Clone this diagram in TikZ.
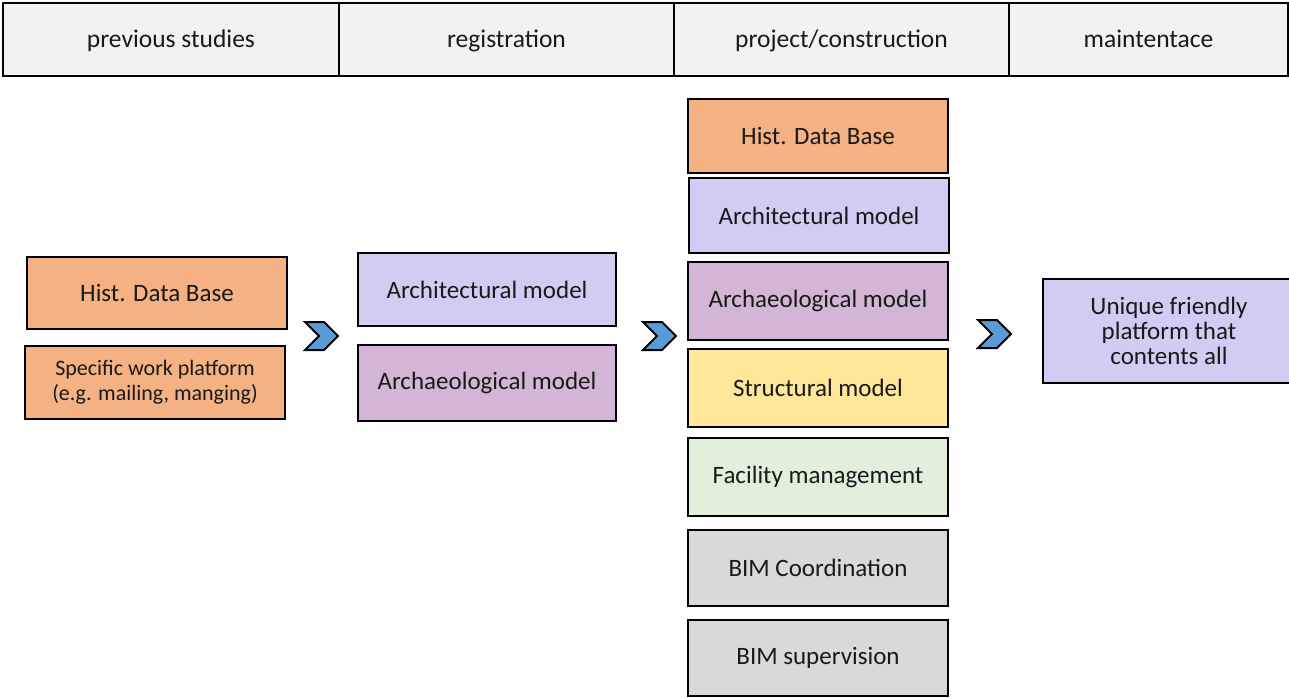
\documentclass[tikz,border=0pt]{standalone}
\usepackage{fontspec}
\setmainfont{Carlito}
\definecolor{cOrange}{HTML}{F4B183}
\definecolor{cLav}{HTML}{D0CCF2}
\definecolor{cMauve}{HTML}{D3B5D6}
\definecolor{cYellow}{HTML}{FFE699}
\definecolor{cGreen}{HTML}{E2EFDA}
\definecolor{cGrey}{HTML}{D9D9D9}
\definecolor{cHead}{HTML}{F2F2F2}
\definecolor{cChev}{HTML}{5B9BD5}
\begin{document}
\begin{tikzpicture}[x=1pt,y=-1pt,
  box/.style={draw=black, line width=1.6pt, inner sep=2pt, outer sep=0pt, align=center,
    font=\fontsize{25}{30}\selectfont, text=black!90},
  head/.style={box, fill=cHead, minimum height=73pt, font=\fontsize{25.5}{30}\selectfont,
    text height=19pt, text depth=3pt},
  chevstyle/.style={draw=black, line width=2pt, fill=cChev, line join=miter},
  chev/.pic={\draw[chevstyle] (0,0) -- (19,0) -- (33,14) -- (19,28) -- (0,28) -- (14,14) -- cycle;}
]
\useasboundingbox (0,0) rectangle (1289,697);
% header
\node[head, minimum width=336pt] (h1) at (171,39.5) {previous studies};
\node[head, minimum width=335pt] (h2) at (506.5,39.5) {registration};
\node[head, minimum width=335pt] (h3) at (841.5,39.5) {project/construction};
\node[head, minimum width=279pt] (h4) at (1148.5,39.5) {maintentace};
% previous studies
\node[box, fill=cOrange, minimum width=260pt, minimum height=72pt] (ps1) at (157,293) {Hist. Data Base};
\node[box, fill=cOrange, minimum width=260pt, minimum height=73pt, font=\fontsize{22}{25}\selectfont] (ps2) at (155,382.5) {Specific work platform\\(e.g. mailing, manging)};
% registration
\node[box, fill=cLav, minimum width=258pt, minimum height=73pt] (r1) at (487,289.5) {Architectural model};
\node[box, fill=cMauve, minimum width=258pt, minimum height=76pt] (r2) at (487,383) {Archaeological model};
% project/construction
\node[box, fill=cOrange, minimum width=260pt, minimum height=74pt] (p1) at (818,136) {Hist. Data Base};
\node[box, fill=cLav, minimum width=260pt, minimum height=75pt] (p2) at (819,215.5) {Architectural model};
\node[box, fill=cMauve, minimum width=260pt, minimum height=78pt] (p3) at (818,301) {Archaeological model};
\node[box, fill=cYellow, minimum width=260pt, minimum height=78pt] (p4) at (818,388) {Structural model};
\node[box, fill=cGreen, minimum width=260pt, minimum height=78pt] (p5) at (818,477) {Facility management};
\node[box, fill=cGrey, minimum width=260pt, minimum height=76pt] (p6) at (818,568) {BIM Coordination};
\node[box, fill=cGrey, minimum width=260pt, minimum height=76pt] (p7) at (818,658) {BIM supervision};
% maintenance
\node[box, fill=cLav, minimum width=252pt, minimum height=104pt, font=\fontsize{25}{25}\selectfont] (m1) at (1169,331) {Unique friendly\\platform that\\contents all};
% chevrons
\pic at (305,322) {chev};
\pic at (643,322) {chev};
\pic at (978,320) {chev};
\end{tikzpicture}
\end{document}
